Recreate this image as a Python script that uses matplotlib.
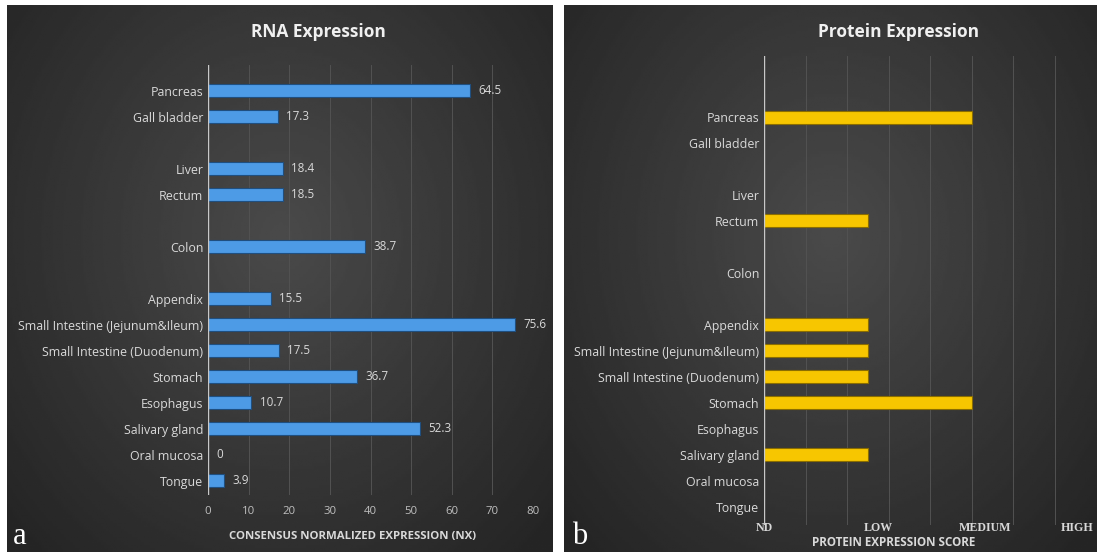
import numpy as np
import matplotlib
matplotlib.use('Agg')
import matplotlib.pyplot as plt

# rows from bottom (Tongue) to top (Pancreas); blank strings are spacer rows
tissues = ["Tongue", "Oral mucosa", "Salivary gland", "Esophagus", "Stomach",
           "Small Intestine (Duodenum)", "Small Intestine (Jejunum&Ileum)",
           "Appendix", "", "Colon", "", "Rectum", "Liver", "", "Gall bladder",
           "Pancreas"]
rna_nx = [3.9, 0, 52.3, 10.7, 36.7, 17.5, 75.6, 15.5, None, 38.7, None,
          18.5, 18.4, None, 17.3, 64.5]
# protein score: 0 = ND, 1 = LOW, 2 = MEDIUM, 3 = HIGH
protein_score = [0, 0, 1, 0, 2, 1, 1, 1, None, 0, None, 1, 0, None, 0, 2]
score_labels = ["ND", "LOW", "MEDIUM", "HIGH"]

W, H = 1099, 554
fig = plt.figure(figsize=(W / 100, H / 100), dpi=100, facecolor='white')

sans = ['Open Sans', 'DejaVu Sans']
serif = ['Liberation Serif', 'DejaVu Serif']


def panel_bg(x0, y0, x1, y1):
    ax = fig.add_axes([x0 / W, 1 - y1 / H, (x1 - x0) / W, (y1 - y0) / H])
    ny, nx = 200, 300
    yy, xx = np.mgrid[0:ny, 0:nx]
    d = np.sqrt(((xx - nx * 0.5) / (nx * 0.6)) ** 2 + ((yy - ny * 0.42) / (ny * 0.7)) ** 2)
    g = 0.29 - 0.13 * np.clip(d, 0, 1.1)
    ax.imshow(g, cmap='gray', vmin=0, vmax=1, aspect='auto', extent=[0, 1, 0, 1])
    ax.set_axis_off()
    return ax


def setup(ax, grid_ticks):
    ax.set_facecolor('none')
    for s in ax.spines.values():
        s.set_visible(False)
    for g in grid_ticks[1:]:
        ax.axvline(g, color='#525252', lw=0.7, zorder=0)
    ax.axvline(0, color='#c8c8c8', lw=1.0, zorder=3)
    ax.tick_params(length=0, colors='#d9d9d9')
    ax.set_yticks(range(len(tissues)))
    ax.set_yticklabels(tissues, fontsize=8.9, color='#d9d9d9', family=sans)


panel_bg(7, 5, 553, 552)
panel_bg(564, 5, 1097, 552)

# ---- RNA panel
ax1 = fig.add_axes([208 / W, 1 - 495 / H, 325 / W, 430 / H])
setup(ax1, list(range(0, 81, 10)))
ys = [i for i, v in enumerate(rna_nx) if v is not None]
vals = [rna_nx[i] for i in ys]
ax1.barh(ys, vals, height=0.5, color='#4d9be6', edgecolor='#1f4f80', lw=0.8, zorder=2)
for y, v in zip(ys, vals):
    ax1.text(v + 2.0, y, f"{v:g}", va='center', ha='left', fontsize=8.4,
             color='#d9d9d9', family=sans)
ax1.set_xlim(0, 80)
ax1.set_ylim(-0.54, 16.0)
ax1.set_xticks(range(0, 81, 10))
ax1.set_xticklabels([str(t) for t in range(0, 81, 10)], fontsize=8.2,
                    color='#bfbfbf', family=sans)
ax1.tick_params(axis='x', pad=8)

# ---- Protein panel
ax2 = fig.add_axes([764 / W, 1 - 525 / H, 332 / W, 469 / H])
setup(ax2, list(np.arange(0, 3.21, 0.4)))
ys2 = [i for i, v in enumerate(protein_score) if v]
vals2 = [protein_score[i] for i in ys2]
ax2.barh(ys2, vals2, height=0.5, color='#f7c600', edgecolor='#8a6d00', lw=0.8, zorder=2)
ax2.set_xlim(0, 3.2)
ax2.set_ylim(-0.7, 17.35)
ax2.set_xticks([0, 1.1, 2.13, 3.02])
ax2.set_xticklabels(score_labels, fontsize=8.6, color='#d8d8d8', family=serif,
                    fontweight='bold')
ax2.tick_params(axis='x', pad=-2)

# titles and axis labels
fig.text(318 / W, 1 - 32 / H, "RNA Expression", ha='center', va='center',
         fontsize=12.5, fontweight='bold', color='#f0f0f0', family=sans)
fig.text(899 / W, 1 - 32 / H, "Protein Expression", ha='center', va='center',
         fontsize=12.5, fontweight='bold', color='#f0f0f0', family=sans)
fig.text(353 / W, 1 - 537 / H, "CONSENSUS NORMALIZED EXPRESSION (NX)", ha='center',
         va='center', fontsize=8.2, fontweight='bold', color='#d9d9d9', family=sans)
fig.text(894 / W, 1 - 542 / H, "PROTEIN EXPRESSION SCORE", ha='center',
         va='center', fontsize=8.4, fontweight='bold', color='#d9d9d9', family=sans)
fig.text(20 / W, 1 - 536 / H, "a", ha='center', va='center', fontsize=22,
         color='white', family=serif)
fig.text(580 / W, 1 - 536 / H, "b", ha='center', va='center', fontsize=22,
         color='white', family=serif)

fig.savefig('out.png', dpi=100, facecolor='white')
